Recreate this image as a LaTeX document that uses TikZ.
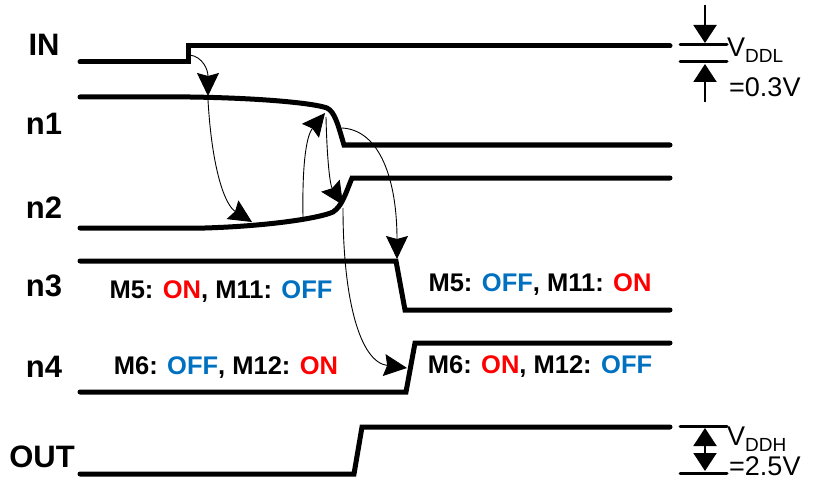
\documentclass[tikz,border=0pt]{standalone}
\usepackage{fontspec}
\setmainfont{Liberation Sans}
\usetikzlibrary{arrows.meta}
\definecolor{onred}{RGB}{255,0,0}
\definecolor{offblue}{RGB}{0,112,192}
\begin{document}
\begin{tikzpicture}[x=1pt,y=-1pt,
  wave/.style={line width=5pt, line cap=round, line join=miter},
  conn/.style={line width=0.9pt, -{Stealth[length=23pt,width=22pt,inset=3pt]}},
  sig/.style={font=\fontsize{31}{31}\selectfont\bfseries, inner sep=0pt},
  state/.style={font=\fontsize{25.5}{25.5}\selectfont\bfseries, inner sep=0pt},
  volt/.style={font=\fontsize{27}{27}\selectfont, inner sep=0pt, anchor=west},
  levelline/.style={line width=3pt, line cap=round},
  varr/.style={line width=2pt, -{Triangle[length=18pt,width=23pt]}},
  varr2/.style={line width=2pt, {Triangle[length=18pt,width=23pt]}-{Triangle[length=18pt,width=23pt]}}]
\useasboundingbox (0,0) rectangle (815,487);

% signal names
\node[sig] (lIN) at (44,45) {IN};
\node[sig] (ln1) at (44,124) {n1};
\node[sig] (ln2) at (44,208) {n2};
\node[sig] (ln3) at (44,286) {n3};
\node[sig] (ln4) at (44,367) {n4};
\node[sig] (lOUT) at (42,457) {OUT};

% waveforms
\draw[wave] (80,62) -- (188,62) -- (188,46) -- (670,46);
\draw[wave] (80,97) -- (190,97) .. controls (260,98) and (313,103) .. (327,108)
  .. controls (335,112) and (338,125) .. (344,145) -- (670,145);
\draw[wave] (80,228) -- (205,228) .. controls (270,226) and (320,218) .. (333,212)
  .. controls (342,206) and (345,195) .. (352,178) -- (670,178);
\draw[wave] (80,261) -- (396,261) -- (405,310) -- (670,310);
\draw[wave] (80,392) -- (406,392) -- (415,343) -- (670,343);
\draw[wave] (80,474) -- (354,474) -- (362,427) -- (670,427);

% connector end points
\coordinate (inA) at (190,55);
\coordinate (n1A) at (208,96);
\coordinate (n1B) at (208,100);
\coordinate (n2A) at (252,222);
\coordinate (n2B) at (303,217);
\coordinate (n1C) at (325,113);
\coordinate (n1D) at (326,117);
\coordinate (n2C) at (343,205);
\coordinate (n1E) at (342,128);
\coordinate (n3A) at (397,259);
\coordinate (n2D) at (343,208);
\coordinate (n4A) at (407,368);

\draw[conn] (inA) .. controls (203,57) and (208,70) .. (n1A);
\draw[conn] (n1B) .. controls (212,170) and (225,205) .. (n2A);
\draw[conn] (n2B) .. controls (302,160) and (307,135) .. (n1C);
\draw[conn] (n1D) .. controls (327,160) and (330,185) .. (n2C);
\draw[conn] (n1E) .. controls (380,130) and (397,180) .. (n3A);
\draw[conn] (n2D) .. controls (343,300) and (360,362) .. (n4A);

% state labels
\node[state] (s1) at (221,292) {M5: \textcolor{onred}{ON}, M11: \textcolor{offblue}{OFF}};
\node[state] (s2) at (226,368) {M6: \textcolor{offblue}{OFF}, M12: \textcolor{onred}{ON}};
\node[state] (s3) at (540,285) {M5: \textcolor{offblue}{OFF}, M11: \textcolor{onred}{ON}};
\node[state] (s4) at (540,367) {M6: \textcolor{onred}{ON}, M12: \textcolor{offblue}{OFF}};

% VDDL marker
\coordinate (dlT1) at (680,45);
\coordinate (dlT2) at (727,45);
\coordinate (dlB1) at (680,62);
\coordinate (dlB2) at (727,62);
\draw[levelline] (dlT1) -- (dlT2);
\draw[levelline] (dlB1) -- (dlB2);
\coordinate (dlTop) at (705,5);
\coordinate (dlTopTip) at (705,43);
\coordinate (dlBot) at (705,102);
\coordinate (dlBotTip) at (705,64);
\draw[varr] (dlTop) -- (dlTopTip);
\draw[varr] (dlBot) -- (dlBotTip);
\node[volt] (vddl) at (727,50) {V{\fontsize{19}{19}\selectfont\raisebox{-6pt}{DDL}}};
\node[volt] (vddlv) at (729,87) {=0.3V};

% VDDH marker
\coordinate (dhT1) at (680,426);
\coordinate (dhT2) at (727,426);
\coordinate (dhB1) at (680,473);
\coordinate (dhB2) at (727,473);
\draw[levelline] (dhT1) -- (dhT2);
\draw[levelline] (dhB1) -- (dhB2);
\coordinate (dhTop) at (705,428);
\coordinate (dhBot) at (705,471);
\draw[varr2] (dhTop) -- (dhBot);
\node[volt] (vddh) at (727,439) {V{\fontsize{19}{19}\selectfont\raisebox{-6pt}{DDH}}};
\node[volt] (vddhv) at (729,466) {=2.5V};
\end{tikzpicture}
\end{document}
